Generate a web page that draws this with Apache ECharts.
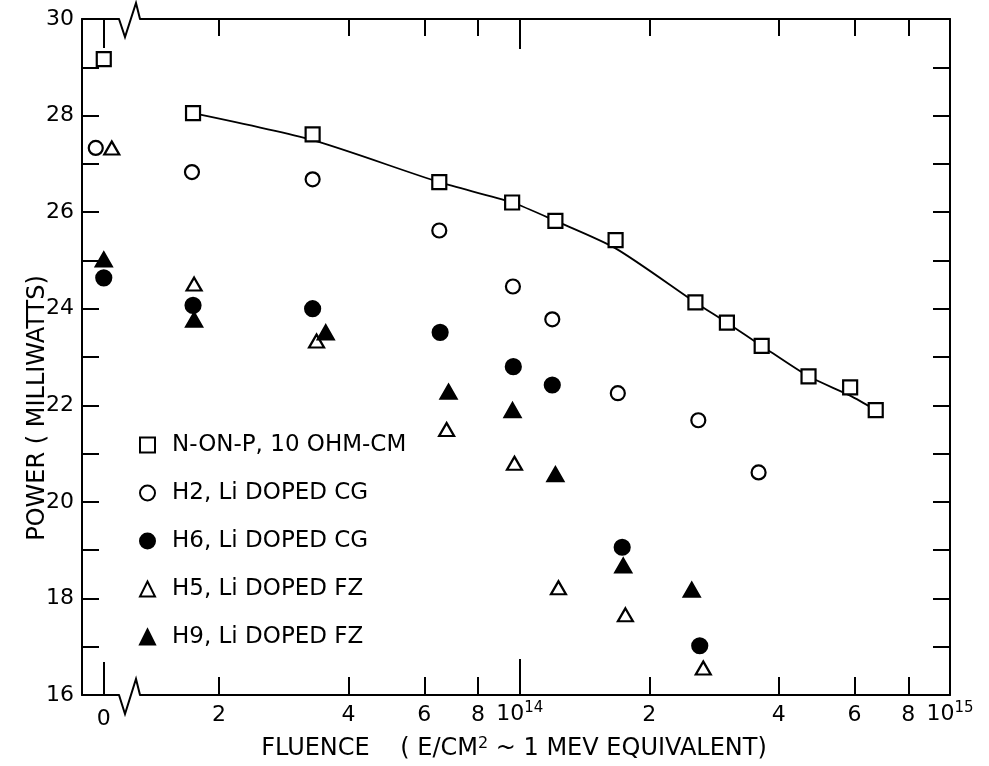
<!DOCTYPE html>
<html><head><meta charset="utf-8">
<script src="https://cdn.jsdelivr.net/npm/echarts@6/dist/echarts.min.js"></script>
<style>html,body{margin:0;padding:0;background:#fff}#c{width:989px;height:766px}</style>
</head><body><div id="c"></div>
<script>
// ---------------- data (fluence in e/cm^2, power in mW) ----------------
const NP_F = [0, 1.74e13, 3.3e13, 6.5e13, 9.6e13, 1.21e14, 1.67e14, 2.56e14, 3.03e14, 3.65e14, 4.69e14, 5.86e14, 6.72e14];
const NP_P = [29.17, 28.05, 27.61, 26.62, 26.2, 25.82, 25.42, 24.13, 23.71, 23.23, 22.6, 22.37, 21.9];
const H2_F = [0, 1.73e13, 3.3e13, 6.5e13, 9.64e13, 1.19e14, 1.69e14, 2.6e14, 3.59e14];
const H2_P = [27.33, 26.83, 26.68, 25.62, 24.46, 23.78, 22.25, 21.69, 20.61];
const H6_F = [0, 1.74e13, 3.3e13, 6.53e13, 9.66e13, 1.19e14, 1.73e14, 2.62e14];
const H6_P = [24.64, 24.07, 24.0, 23.51, 22.8, 22.42, 19.06, 17.02];
const H5_F = [0, 1.75e13, 3.37e13, 6.76e13, 9.72e13, 1.23e14, 1.76e14, 2.67e14];
const H5_P = [27.33, 24.51, 23.33, 21.5, 20.8, 18.22, 17.66, 16.56];
const H9_F = [0, 1.75e13, 3.54e13, 6.83e13, 9.62e13, 1.21e14, 1.74e14, 2.51e14];
const H9_P = [25.02, 23.77, 23.51, 22.28, 21.9, 20.57, 18.68, 18.18];
// hand-drawn curve through the N-ON-P points
const FIT_F = [1.74e13, 3.3e13, 6.5e13, 9.6e13, 1.21e14, 1.67e14, 2.56e14, 3.03e14, 3.65e14, 4.69e14, 5.86e14, 6.72e14];
const FIT_P = [28.05, 27.49, 26.62, 26.2, 25.82, 25.25, 24.13, 23.71, 23.23, 22.6, 22.2, 21.9];
// axis ticks
const X_MINOR = [2e13, 4e13, 6e13, 8e13, 2e14, 4e14, 6e14, 8e14];
const X_DECADE = [1e14, 1e15];
const X_ZERO = [0];
const Y_MIN = 16, Y_MAX = 30;
const F_MIN = 1.31e13, F_MAX = 1e15;
const NAMES = ['N-ON-P, 10 OHM-CM', 'H2, Li DOPED CG', 'H6, Li DOPED CG', 'H5, Li DOPED FZ', 'H9, Li DOPED FZ'];

// ---------------- chart ----------------
const FONT = 'DejaVu Sans';
const BK = '#000';
const LW = 2;
const LOG = v => Math.log10(v);
const chart = echarts.init(document.getElementById('c'), null, {renderer: 'canvas'});

const STYLES = [
  {f: NP_F, p: NP_P, symbol: 'rect', size: 14, fill: '#fff', off: 0},
  {f: H2_F, p: H2_P, symbol: 'circle', size: 14, fill: '#fff', off: -8},
  {f: H6_F, p: H6_P, symbol: 'circle', size: 15, fill: BK, off: 0},
  {f: H5_F, p: H5_P, symbol: 'triangle', size: [15, 13], fill: '#fff', off: 8},
  {f: H9_F, p: H9_P, symbol: 'triangle', size: [16, 14], fill: BK, off: 0}
];

const series = [{
  type: 'line', name: 'fit', xAxisIndex: 2, yAxisIndex: 1, z: 1,
  data: FIT_F.map((f, i) => [f, FIT_P[i]]), showSymbol: false, symbol: 'none',
  smooth: 0.25, lineStyle: {color: BK, width: 1.8}, silent: true
}];
STYLES.forEach((s, k) => {
  const base = {
    type: 'scatter', name: NAMES[k], symbol: s.symbol, symbolSize: s.size, z: 3,
    itemStyle: {color: s.fill, borderColor: BK, borderWidth: 2.2, opacity: 1}
  };
  series.push(Object.assign({}, base, {
    xAxisIndex: 2, yAxisIndex: 1,
    data: s.f.map((f, i) => [f, s.p[i]]).filter(d => d[0] > 0)
  }));
  series.push(Object.assign({}, base, {
    xAxisIndex: 0, yAxisIndex: 0, symbolOffset: [s.off, 0],
    data: s.f.map((f, i) => [f, s.p[i]]).filter(d => d[0] === 0)
  }));
});

const lineStyle = {show: true, onZero: false, lineStyle: {color: BK, width: LW}};
const noLine = {show: false, onZero: false};
const tickStyle = (len, vals) => ({show: true, inside: true, length: len, customValues: vals, lineStyle: {color: BK, width: LW}});
const lblFont = {color: BK, fontFamily: FONT, fontSize: 22};

const decadeFmt = v => '{b|10}{s|' + Math.round(v) + '}';
const minorFmt = v => String(Math.round(Math.pow(10, v - Math.floor(v + 1e-9))));

const xAxis = [
  // 0: zero-fluence strip, bottom
  {type: 'value', gridIndex: 0, position: 'bottom', min: -1, max: 0.7,
   axisLine: lineStyle, axisTick: tickStyle(33, X_ZERO), splitLine: {show: false},
   axisLabel: Object.assign({customValues: X_ZERO, margin: 13, formatter: v => String(v)}, lblFont)},
  // 1: zero-fluence strip, top
  {type: 'value', gridIndex: 0, position: 'top', min: -1, max: 0.7,
   axisLine: lineStyle, axisTick: tickStyle(29, X_ZERO), splitLine: {show: false}, axisLabel: {show: false}},
  // 2: main log axis (data)
  {type: 'log', logBase: 10, gridIndex: 1, position: 'bottom', min: F_MIN, max: F_MAX,
   axisLine: lineStyle, axisTick: {show: false}, axisLabel: {show: false}, splitLine: {show: false}, minorTick: {show: false}},
  // 3: bottom minor ticks 2,4,6,8
  {type: 'value', gridIndex: 1, position: 'bottom', min: LOG(F_MIN), max: LOG(F_MAX),
   axisLine: noLine, axisTick: tickStyle(18, X_MINOR.map(LOG)), splitLine: {show: false},
   axisLabel: Object.assign({customValues: X_MINOR.map(LOG), margin: 9, formatter: minorFmt}, lblFont)},
  // 4: bottom decade ticks
  {type: 'value', gridIndex: 1, position: 'bottom', min: LOG(F_MIN), max: LOG(F_MAX),
   axisLine: noLine, axisTick: tickStyle(36, X_DECADE.map(LOG)), splitLine: {show: false},
   axisLabel: Object.assign({customValues: X_DECADE.map(LOG), margin: 6, formatter: decadeFmt,
     rich: {b: {fontFamily: FONT, fontSize: 22, color: BK}, s: {fontFamily: FONT, fontSize: 15, color: BK, padding: [0, 0, 11, 0]}}}, lblFont)},
  // 5: top minor ticks + top border
  {type: 'value', gridIndex: 1, position: 'top', min: LOG(F_MIN), max: LOG(F_MAX),
   axisLine: lineStyle, axisTick: tickStyle(17, X_MINOR.map(LOG)), splitLine: {show: false}, axisLabel: {show: false}},
  // 6: top decade tick
  {type: 'value', gridIndex: 1, position: 'top', min: LOG(F_MIN), max: LOG(F_MAX),
   axisLine: noLine, axisTick: tickStyle(30, [LOG(1e14)]), splitLine: {show: false}, axisLabel: {show: false}}
];

const yAxis = [
  {type: 'value', gridIndex: 0, position: 'left', min: Y_MIN, max: Y_MAX, interval: 1,
   axisLine: lineStyle, axisTick: {show: true, inside: true, length: 17, lineStyle: {color: BK, width: LW}},
   splitLine: {show: false},
   axisLabel: Object.assign({margin: 8, formatter: v => (v % 2 === 0 ? String(v) : '')}, lblFont)},
  {type: 'value', gridIndex: 1, position: 'right', min: Y_MIN, max: Y_MAX, interval: 1,
   axisLine: lineStyle, axisTick: {show: true, inside: true, length: 17, lineStyle: {color: BK, width: LW}},
   splitLine: {show: false}, axisLabel: {show: false}}
];

const option = {
  animation: false,
  backgroundColor: '#fff',
  grid: [
    {left: 82, top: 19, width: 37, bottom: 71},
    {left: 140, top: 19, right: 39, bottom: 71}
  ],
  xAxis: xAxis,
  yAxis: yAxis,
  legend: {
    data: NAMES, orient: 'vertical', left: 134, top: 428, itemWidth: 15, itemHeight: 15, itemGap: 24,
    selectedMode: false,
    textStyle: {fontFamily: FONT, fontSize: 23, color: BK, lineHeight: 24, padding: [0, 0, 0, 12]}
  },
  graphic: [
    {type: 'polyline', shape: {points: [[119, 19], [125, 37], [136, 3], [140, 19]]}, style: {stroke: BK, lineWidth: LW, fill: null}},
    {type: 'polyline', shape: {points: [[119, 695], [125, 714], [136, 679], [140, 695]]}, style: {stroke: BK, lineWidth: LW, fill: null}},
    {type: 'text', x: 38, y: 408, rotation: Math.PI / 2,
     style: {text: 'POWER ( MILLIWATTS)', fontFamily: FONT, fontSize: 24, fill: BK, align: 'center', verticalAlign: 'middle'}},
    {type: 'text', x: 514, y: 749,
     style: {text: '{a|FLUENCE    ( E/CM}{s|2}{a| ~ 1 MEV EQUIVALENT)}', align: 'center', verticalAlign: 'middle',
       rich: {a: {fontFamily: FONT, fontSize: 24, fill: BK}, s: {fontFamily: FONT, fontSize: 16, fill: BK, padding: [0, 0, 11, 0]}}}}
  ],
  series: series
};
chart.setOption(option);
</script>
</body></html>
